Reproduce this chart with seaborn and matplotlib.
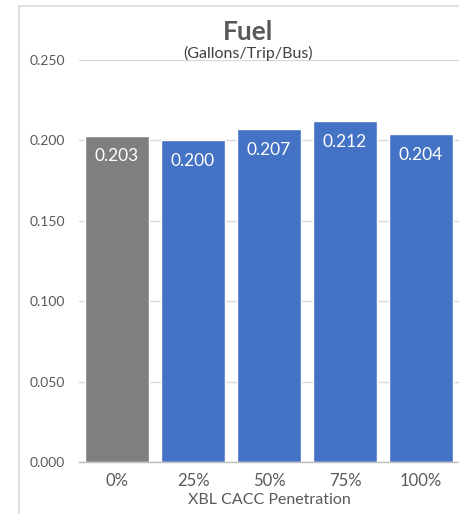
import matplotlib
matplotlib.use("Agg")
import matplotlib.pyplot as plt
from matplotlib.patches import Rectangle
import seaborn as sns
import pandas as pd

categories = ["0%", "25%", "50%", "75%", "100%"]
fuel = [0.203, 0.200, 0.207, 0.212, 0.204]
bar_colors = ["#7F7F7F", "#4472C4", "#4472C4", "#4472C4", "#4472C4"]
y_ticks = [0.0, 0.05, 0.10, 0.15, 0.20, 0.25]

sns.set_theme(style="white")
plt.rcParams["font.family"] = ["Lato", "DejaVu Sans"]

W, H = 459, 514
fig = plt.figure(figsize=(W / 100, H / 100), dpi=100)
fig.patch.set_facecolor("white")

# chart frame
fig.add_artist(Rectangle((19 / W, -0.1), 1.2, (H - 6) / H + 0.1,
                         transform=fig.transFigure, facecolor="none",
                         edgecolor="#D9D9D9", linewidth=1.2))

ax = fig.add_axes([79 / W, (H - 462) / H, (W - 79) / W, (462 - 60) / H])
df = pd.DataFrame({"cat": categories, "val": fuel})
sns.barplot(data=df, x="cat", y="val", hue="cat", palette=bar_colors,
            legend=False, width=0.83, ax=ax, saturation=1)

ax.set_ylim(0, 0.25)
ax.set_xlim(-0.5, 4.5)
ax.set_yticks(y_ticks)
ax.set_yticklabels([f"{t:.3f}" for t in y_ticks])
ax.yaxis.grid(True, color="#D9D9D9", linewidth=1)
ax.set_axisbelow(True)
for s in ["top", "right", "left"]:
    ax.spines[s].set_visible(False)
ax.spines["bottom"].set_color("#BFBFBF")
ax.spines["bottom"].set_linewidth(1)
ax.tick_params(axis="y", length=0, labelsize=10, labelcolor="#595959", pad=10)
ax.tick_params(axis="x", length=0, labelsize=12, labelcolor="#595959", pad=8)
ax.set_ylabel("")
ax.set_xlabel("XBL CACC Penetration", fontsize=11.5, color="#595959", labelpad=3)

for i, v in enumerate(fuel):
    ax.text(i, v - 0.013, f"{v:.3f}", ha="center", va="center",
            color="white", fontsize=12.5)

fig.text(248 / W, 1 - 32 / H, "Fuel", ha="center", va="center",
         fontsize=19, fontweight="bold", color="#595959")
fig.text(248 / W, 1 - 53 / H, "(Gallons/Trip/Bus)", ha="center", va="center",
         fontsize=11.5, color="#404040")

fig.savefig("out.png", dpi=100)
